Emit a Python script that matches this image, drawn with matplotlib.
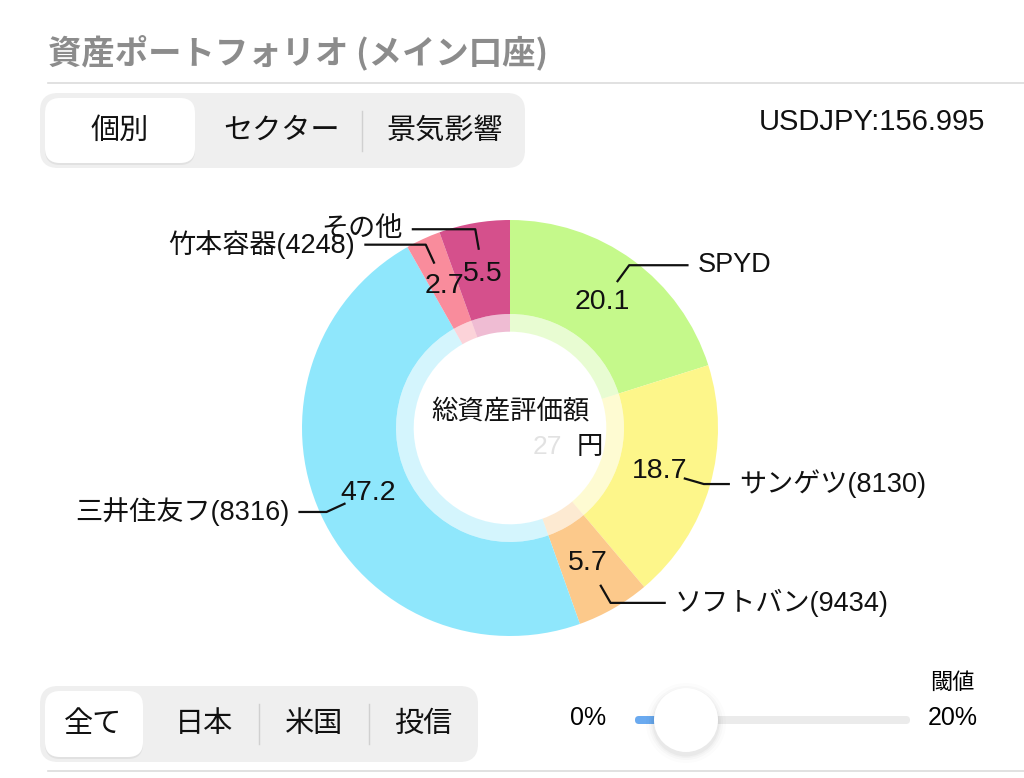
import numpy as np
import matplotlib
matplotlib.use("Agg")
import matplotlib.pyplot as plt
from matplotlib.patches import FancyBboxPatch, Circle

# portfolio weights (%), clockwise from 12 o'clock
NAMES = ["SPYD", "サンゲツ(8130)", "ソフトバン(9434)", "三井住友フ(8316)",
         "竹本容器(4248)", "その他"]
WEIGHTS = [20.1, 18.7, 5.7, 47.2, 2.7, 5.5]
COLORS = ["#c5f98b", "#fdf68a", "#fcc98b", "#8fe7fc", "#f98c9c", "#d5508c"]
LEADER_LEN = [0.28, 0.12, 0.26, 0.13, 0.29, 0.30]   # horizontal part, in radii

TITLE = "資産ポートフォリオ (メイン口座)"
TABS_TOP = ["個別", "セクター", "景気影響"]
TABS_BOTTOM = ["全て", "日本", "米国", "投信"]
FX = "USDJPY:156.995"

JP = ["Noto Sans CJK JP", "DejaVu Sans"]
LAT = ["Liberation Sans", "Noto Sans CJK JP", "DejaVu Sans"]
plt.rcParams["font.family"] = JP

W, H = 1024, 778
fig = plt.figure(figsize=(W / 100, H / 100), dpi=100)
fig.patch.set_facecolor("white")

# pixel overlay for the app chrome
ui = fig.add_axes([0, 0, 1, 1])
ui.set_xlim(0, W)
ui.set_ylim(H, 0)
ui.axis("off")

ui.text(48, 52, TITLE, fontsize=24, fontweight="bold", color="#8c8c8c",
        va="center", ha="left", family=JP)
ui.plot([48, W], [83, 83], color="#dcdcdc", lw=1.2)
ui.plot([48, W], [771, 771], color="#dcdcdc", lw=1.2)


def segmented(x0, x1, y0, y1, labels, centers, seps, sel_x1):
    ui.add_patch(FancyBboxPatch((x0, y0), x1 - x0, y1 - y0,
                                boxstyle="round,pad=0,rounding_size=18",
                                fc="#efefef", ec="none"))
    # shadow + selected pill
    ui.add_patch(FancyBboxPatch((x0 + 5, y0 + 7), sel_x1 - x0 - 10, y1 - y0 - 10,
                                boxstyle="round,pad=0,rounding_size=15",
                                fc="#d9d9d9", ec="none", alpha=0.6))
    ui.add_patch(FancyBboxPatch((x0 + 5, y0 + 5), sel_x1 - x0 - 10, y1 - y0 - 10,
                                boxstyle="round,pad=0,rounding_size=15",
                                fc="white", ec="none"))
    ym = (y0 + y1) / 2
    for s in seps:
        ui.plot([s, s], [ym - 20, ym + 20], color="#d0d0d0", lw=1)
    for lab, cx in zip(labels, centers):
        ui.text(cx, ym, lab, fontsize=21, ha="center", va="center",
                color="#111111", family=JP)


segmented(40, 525, 93, 168, TABS_TOP, [120, 282, 445], [362], 200)
segmented(40, 478, 686, 762, TABS_BOTTOM, [93, 204, 314, 423], [259, 369], 148)

ui.text(985, 122, FX, fontsize=21, ha="right", va="center", color="#111111",
        family=LAT)

# threshold slider
ui.text(588, 718, "0%", fontsize=18, ha="center", va="center", family=LAT)
ui.text(953, 718, "20%", fontsize=18, ha="center", va="center", family=LAT)
ui.text(952, 682, "閾値", fontsize=16, ha="center", va="center", family=JP)
ui.add_patch(FancyBboxPatch((635, 716), 275, 8,
                            boxstyle="round,pad=0,rounding_size=4",
                            fc="#ebebeb", ec="none"))
ui.add_patch(FancyBboxPatch((635, 716), 40, 8,
                            boxstyle="round,pad=0,rounding_size=4",
                            fc="#6aaaf0", ec="none"))
for r, a in [(40, 0.012), (37, 0.018), (35, 0.025), (33.5, 0.03)]:
    ui.add_patch(Circle((686, 723), r, fc="#000000", ec="none", alpha=a))
ui.add_patch(Circle((686, 720), 32, fc="white", ec="none"))

# donut
cx, cy, R = 510, 428, 208
ax = fig.add_axes([(cx - R) / W, (H - cy - R) / H, 2 * R / W, 2 * R / H])
wedges, _ = ax.pie(WEIGHTS, colors=COLORS, startangle=90, counterclock=False,
                   radius=1, wedgeprops=dict(width=0.452, linewidth=0))
ax.pie(WEIGHTS, colors=COLORS, startangle=90, counterclock=False, radius=0.548,
       wedgeprops=dict(width=0.085, linewidth=0, alpha=0.38))
ax.set_xlim(-1, 1)
ax.set_ylim(-1, 1)
ax.set_aspect("equal")
ax.axis("off")

for w, val, name, hl in zip(wedges, WEIGHTS, NAMES, LEADER_LEN):
    ang = np.deg2rad((w.theta1 + w.theta2) / 2)
    c, s = np.cos(ang), np.sin(ang)
    ax.text(0.75 * c, 0.75 * s, f"{val:.1f}", fontsize=20.5, ha="center",
            va="center", color="#111111", family=LAT, zorder=5)
    sgn = 1 if c >= 0 else -1
    kx, ky = 0.97 * c, 0.97 * s
    ex = kx + sgn * hl
    ax.plot([0.875 * c, kx, ex], [0.875 * s, ky, ky], color="#111111", lw=1.6,
            clip_on=False, zorder=6)
    ax.text(ex + sgn * 0.05, ky, name, fontsize=19.5, ha="left" if sgn > 0 else "right",
            va="center", color="#111111", family=LAT, clip_on=False, zorder=6)

# centre caption (amount is masked in the source)
ax.text(0, 0.08, "総資産評価額", fontsize=19, ha="center", va="center",
        color="#111111", family=JP)
ax.text(0.18, -0.09, "27", fontsize=19, ha="center", va="center",
        color="#e2e2e2", family=LAT)
ax.text(0.385, -0.09, "円", fontsize=19, ha="center", va="center",
        color="#111111", family=JP)

fig.savefig("out.png", dpi=100)
